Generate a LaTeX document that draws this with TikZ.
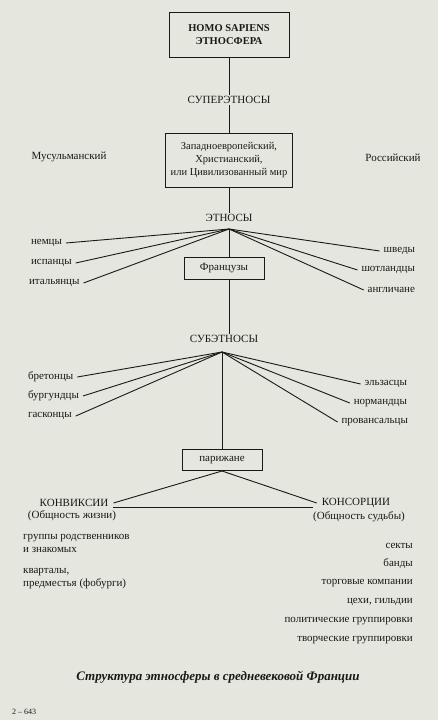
\documentclass[tikz,border=0pt]{standalone}
\usepackage{fontspec}
\setmainfont{Liberation Serif}
\definecolor{ink}{RGB}{25,25,24}
\definecolor{paper}{RGB}{229,230,221}
\begin{document}
\begin{tikzpicture}[x=1pt,y=-1pt,
  every node/.style={text=ink, font=\fontsize{11}{13}\selectfont, inner sep=1pt},
  boxst/.style={draw=ink, line width=1pt, align=center, inner sep=3pt},
  lst/.style={outer sep=3pt},
  ln/.style={draw=ink, line width=0.9pt}]
\fill[paper] (0,0) rectangle (438,720);
\useasboundingbox (0,0) rectangle (438,720);

% top
\node[boxst, minimum width=120pt, minimum height=45pt, font=\bfseries\fontsize{10.5}{13}\selectfont] (homo) at (229,35) {HOMO SAPIENS\\ЭТНОСФЕРА};
\node (super) at (229,100) {СУПЕРЭТНОСЫ};
\node[boxst, minimum width=127pt, minimum height=54pt, font=\fontsize{10.5}{13}\selectfont] (zap) at (229,160) {Западноевропейский,\\Христианский,\\или Цивилизованный мир};
\node (mus) at (69,157) {Мусульманский};
\node (ros) at (393,158) {Российский};
\draw[ln] (homo.south) -- (super.north);
\draw[ln] (super.south) -- (zap.north);

% ethnoi
\node (etn) at (229,218) {ЭТНОСЫ};
\coordinate (eh) at (229,229);
\draw[ln] (zap.south) -- (etn.north);
\node[lst, anchor=west] (nem) at (27,243) {немцы};
\node[lst, anchor=west] (isp) at (27,263) {испанцы};
\node[lst, anchor=west] (ita) at (25,283) {итальянцы};
\node[lst, anchor=east] (shv) at (419,251) {шведы};
\node[lst, anchor=east] (sho) at (419,270) {шотландцы};
\node[lst, anchor=east] (ang) at (419,290) {англичане};
\foreach \n in {nem,isp,ita} \draw[ln] (eh) -- (\n.east);
\foreach \n in {shv,sho,ang} \draw[ln] (eh) -- (\n.west);
\node[boxst, minimum width=80pt, minimum height=22pt] (fr) at (224,268) {Французы};
\draw[ln] (eh) -- (eh |- fr.north);

% subethnoi
\node (sub) at (224,339) {СУБЭТНОСЫ};
\coordinate (sh) at (222,352);
\draw[ln] (fr.south -| eh) -- (eh |- sub.north);
\node[lst, anchor=west] (bre) at (24,377) {бретонцы};
\node[lst, anchor=west] (bur) at (24,396) {бургундцы};
\node[lst, anchor=west] (gas) at (24,416) {гасконцы};
\node[lst, anchor=east] (elz) at (411,384) {эльзасцы};
\node[lst, anchor=east] (nor) at (411,403) {нормандцы};
\node[lst, anchor=east] (pro) at (412,422) {провансальцы};
\foreach \n in {bre,bur,gas} \draw[ln] (sh) -- (\n.east);
\foreach \n in {elz,nor,pro} \draw[ln] (sh) -- (\n.west);
\node[boxst, minimum width=80pt, minimum height=21pt] (par) at (222,460) {парижане};
\draw[ln] (sh) -- (par.north);

% bottom
\node (konv) at (74,503) {КОНВИКСИИ};
\node (konvs) at (72,516) {(Общность жизни)};
\node (kons) at (356,503) {КОНСОРЦИИ};
\node (konss) at (359,517) {(Общность судьбы)};
\draw[ln] (par.south) -- ([xshift=4pt]konv.east);
\draw[ln] (par.south) -- ([xshift=-4pt]kons.west);
\draw[ln] ([xshift=4pt,yshift=-4pt]konv.east) -- ([xshift=-8pt,yshift=-4pt]konv.east -| kons.west);

\node[anchor=west] (l1) at (22,538) {группы родственников};
\node[anchor=west] (l2) at (22,550) {и знакомых};
\node[anchor=west] (l3) at (22,572) {кварталы,};
\node[anchor=west] (l4) at (22,584) {предместья (фобурги)};

\node[anchor=east] (r1) at (414,546) {секты};
\node[anchor=east] (r2) at (414,564) {банды};
\node[anchor=east] (r3) at (414,583) {торговые компании};
\node[anchor=east] (r4) at (414,602) {цехи, гильдии};
\node[anchor=east] (r5) at (414,621) {политические группировки};
\node[anchor=east] (r6) at (414,640) {творческие группировки};

\node[font=\bfseries\itshape\fontsize{13}{15}\selectfont] (cap) at (218,677) {Структура этносферы в средневековой Франции};
\node[anchor=west, font=\fontsize{8}{10}\selectfont] (pg) at (11,712) {2 – 643};
\end{tikzpicture}
\end{document}
